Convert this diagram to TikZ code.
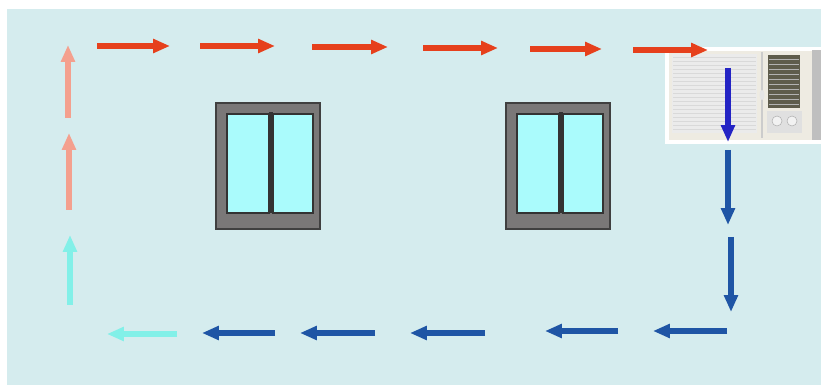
\documentclass[tikz,border=0pt]{standalone}
\usepackage{xcolor}
\usepackage{tikz}
\usetikzlibrary{arrows.meta}

\definecolor{roomblue}{HTML}{D5ECEE}
\definecolor{hotair}{HTML}{E6401C}
\definecolor{warmair}{HTML}{F4A08E}
\definecolor{coolair}{HTML}{82F0E8}
\definecolor{coldair}{HTML}{1F55A5}
\definecolor{acblue}{HTML}{2424C4}
\definecolor{frame}{HTML}{7A7878}
\definecolor{glass}{HTML}{AAFBFC}
\definecolor{casing}{HTML}{EEEBE2}
\definecolor{grille}{HTML}{5E5C4C}

\tikzset{
  flow/.style={line width=3.6pt,-{Triangle[length=12pt,width=9.5pt]}},
  pane/.style={fill=glass,draw=black!80,line width=0.9pt},
}

\begin{document}
\begin{tikzpicture}[x=0.025cm,y=-0.025cm]
  \useasboundingbox (0,0) rectangle (821,385);
  % room
  \fill[roomblue] (7,9) rectangle (821,385);

  % windows
  \foreach \x in {216,506}
  {
    \draw[fill=frame,draw=black!75,line width=0.9pt] (\x,103) rectangle ++(104,126);
    \draw[pane] (\x+11,114) rectangle ++(42,99);
    \draw[pane] (\x+57,114) rectangle ++(40,99);
    \fill[black!80] (\x+53,112) rectangle ++(4,101);
  }

  % air conditioner
  \fill[white] (665,47) rectangle (821,144);
  \fill[casing] (669,51) rectangle (821,140);
  \fill[black!8] (672,54) rectangle (757,133);
  \foreach \y in {57,61,...,131}
    \draw[black!15,line width=0.5pt] (673,\y) -- (756,\y);
  \draw[black!20,line width=0.8pt] (762,52) -- (762,138);
  \fill[black!10] (762,95) ellipse (2.5 and 5);
  \fill[grille] (768,55) rectangle (800,108);
  \foreach \y in {59,64,...,104}
    \draw[black!30,line width=0.6pt] (769,\y) -- (799,\y);
  \fill[black!12] (767,111) rectangle (802,133);
  \foreach \x in {777,792}
    \draw[fill=black!5,draw=black!30] (\x,121) circle (5);
  \fill[black!25] (812,50) rectangle (821,140);

  % warm air along the ceiling
  \foreach \a/\b/\y in {97/170/46, 200/275/46, 312/388/47, 423/498/48, 530/602/49, 633/708/50}
    \draw[flow,hotair] (\a,\y) -- (\b,\y);

  % cold air out of the unit and down the wall
  \draw[flow,acblue] (728,68) -- (728,142);
  \draw[flow,coldair] (728,150) -- (728,225);
  \draw[flow,coldair] (731,237) -- (731,312);

  % along the floor
  \foreach \a/\b/\y in {727/653/331, 618/545/331, 485/410/333, 375/300/333, 275/202/333}
    \draw[flow,coldair] (\a,\y) -- (\b,\y);
  \draw[flow,coolair] (177,334) -- (107,334);

  % rising up the far wall
  \draw[flow,coolair] (70,305) -- (70,235);
  \draw[flow,warmair] (69,210) -- (69,133);
  \draw[flow,warmair] (68,118) -- (68,45);
\end{tikzpicture}
\end{document}
